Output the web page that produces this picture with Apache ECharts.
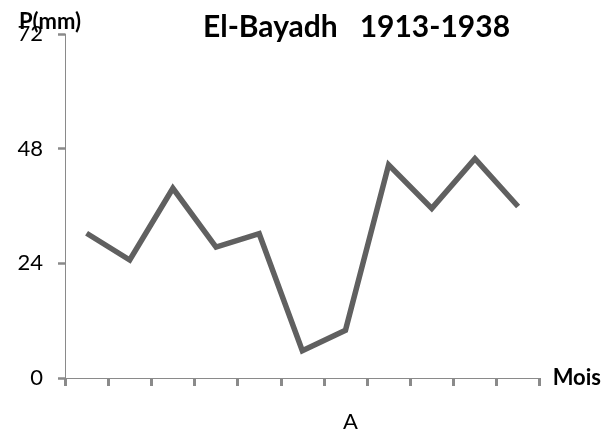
<!DOCTYPE html>
<html>
<head>
<meta charset="utf-8">
<script src="https://cdn.jsdelivr.net/npm/echarts@6/dist/echarts.min.js"></script>
<style>
html,body{margin:0;padding:0;background:#fff;}
#chart{width:604px;height:433px;}
</style>
</head>
<body>
<div id="chart"></div>
<script>
const months = ['S','O','N','D','J','F','M','A','M','J','J'];
const precip = [30.3, 24.7, 39.7, 27.4, 30.2, 5.7, 10.0, 44.6, 35.5, 45.9, 35.9];
const yTicks = {min: 0, max: 72, interval: 24};
const titleText = 'El-Bayadh   1913-1938';
const yName = 'P(mm)';
const xName = 'Mois';
const panelLabel = 'A';

const FONT = 'Lato';
const chart = echarts.init(document.getElementById('chart'), null, {renderer: 'canvas'});
chart.setOption({
  animation: false,
  backgroundColor: '#ffffff',
  textStyle: {fontFamily: FONT},
  title: [
    {text: titleText, left: 198, top: 7,
     textStyle: {fontFamily: FONT, fontWeight: 'bold', fontSize: 30, color: '#000'}},
    {text: yName, left: 14, top: 6,
     textStyle: {fontFamily: FONT, fontWeight: 'bold', fontSize: 22, color: '#000'}},
    {text: panelLabel, left: 338, top: 406,
     textStyle: {fontFamily: FONT, fontWeight: 'normal', fontSize: 22, color: '#000'}}
  ],
  grid: {left: 65, right: 62, top: 34, bottom: 55, containLabel: false},
  xAxis: {
    type: 'category',
    data: months,
    boundaryGap: true,
    name: xName,
    nameLocation: 'end',
    nameGap: 13,
    nameTextStyle: {fontFamily: FONT, fontWeight: 'bold', fontSize: 22, color: '#000'},
    axisLine: {show: true, lineStyle: {color: '#8a8a8a', width: 1}},
    axisTick: {show: true, length: 8, lineStyle: {color: '#8a8a8a', width: 3}},
    axisLabel: {show: false},
    splitLine: {show: false}
  },
  yAxis: {
    type: 'value',
    min: yTicks.min, max: yTicks.max, interval: yTicks.interval,
    axisLine: {show: true, lineStyle: {color: '#8a8a8a', width: 1}},
    axisTick: {show: true, length: 7, lineStyle: {color: '#8a8a8a', width: 2.5}},
    axisLabel: {fontFamily: FONT, fontSize: 22, color: '#000', margin: 22},
    splitLine: {show: false}
  },
  series: [{
    type: 'line',
    data: precip,
    symbol: 'none',
    lineStyle: {color: '#606060', width: 5.5, join: 'miter'},
    itemStyle: {color: '#606060'}
  }]
});
</script>
</body>
</html>
